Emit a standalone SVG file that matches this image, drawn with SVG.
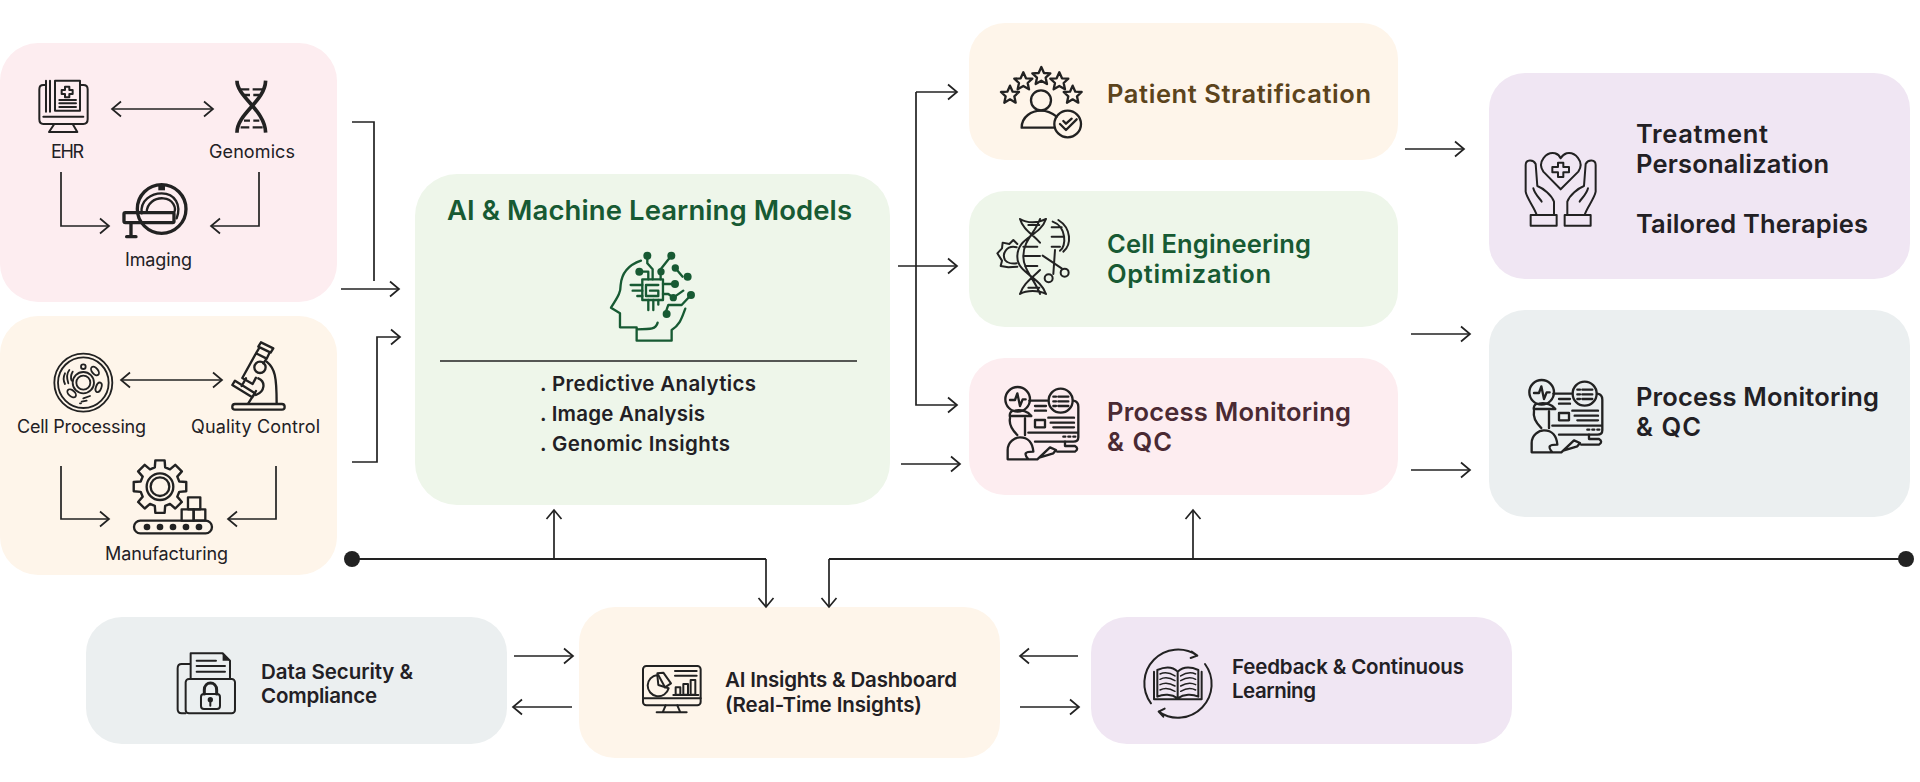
<svg xmlns="http://www.w3.org/2000/svg" width="1920" height="782" viewBox="0 0 1920 782">
<style>
text{font-family:"Inter","Noto Sans","Liberation Sans",sans-serif;fill:#222024}
.s{font-size:18px;font-weight:400}
.t{font-size:25.5px;font-weight:600}
.m{font-size:20.5px;font-weight:600}
.b{font-size:20.5px;font-weight:600}
.title{font-size:27.5px;font-weight:600;fill:#175a33}
.gr{fill:#175a33}.br{fill:#5c441c}.wn{fill:#4a2a33}
.c{fill:none;stroke:#222;stroke-width:1.7}
.a{marker-end:url(#ah)}
.aa{marker-start:url(#ahs);marker-end:url(#ah)}
.i{fill:none;stroke:#222;stroke-width:7;stroke-linejoin:round;stroke-linecap:round}
.f{fill:#222;stroke:none}
.h{fill:none;stroke:#175a33;stroke-width:7;stroke-linejoin:round;stroke-linecap:round}
.hf{fill:#175a33;stroke:none}
</style>
<defs>
<marker id="ah" markerUnits="userSpaceOnUse" markerWidth="14" markerHeight="20" refX="11" refY="9" orient="auto" overflow="visible"><path d="M2 1.5L11 9L2 16.5" fill="none" stroke="#222" stroke-width="1.7"/></marker>
<marker id="ahs" markerUnits="userSpaceOnUse" markerWidth="14" markerHeight="20" refX="11" refY="9" orient="auto-start-reverse" overflow="visible"><path d="M2 1.5L11 9L2 16.5" fill="none" stroke="#222" stroke-width="1.7"/></marker>
<path id="gear" d="M.724-.194L.985-.174L.985.174L.724.194L.649.375L.82.573L.573.82L.375.649L.194.724L.174.985L-.174.985L-.194.724L-.375.649L-.573.82L-.82.573L-.649.375L-.724.194L-.985.174L-.985-.174L-.724-.194L-.649-.375L-.82-.573L-.573-.82L-.375-.649L-.194-.724L-.174-.985L.174-.985L.194-.724L.375-.649L.573-.82L.82-.573L.649-.375Z"/>
<path id="star" d="M0-27L8-9L27-8L13 5L17 24L0 14L-17 24L-13 5L-27-8L-8-9Z"/>
<g id="pm">
<circle cx="173" cy="178" r="37"/><path d="M150 180H165L172 160L180 198L188 178H197"/>
<circle cx="302" cy="182" r="36"/><path d="M295 170H325M295 184H325M295 198H325M280 170H288M280 184H288M280 198H288"/>
<path d="M208 182H262M340 182Q355 184 355 200V292Q355 305 340 305H225M205 278H352M225 198H258M225 212H258M265 233H342M272 248H342M280 262H342M310 290H316M325 290H331M340 290H346"/>
<rect x="225" y="240" width="30" height="22"/>
<path d="M315 305V318H345Q358 326 345 335H292M150 232C148 222 150 212 165 212C185 208 205 215 214 228H150ZM150 235C145 260 165 278 172 285M195 235V285M143 358V330C143 305 165 292 180 292C205 292 218 310 220 335C195 335 190 340 205 358ZM143 358H232L270 322L288 330L280 340L240 352"/>
</g>
<g id="hand"><path d="M222 465V425C215 405 190 385 172 378L167 312C160 298 137 298 137 315V395C140 415 165 445 170 465M160 385C165 405 180 415 185 425"/><rect x="152" y="465" width="78" height="32"/></g>
</defs>

<g id="clinical-data">
<rect x="0" y="43" width="337" height="259" rx="38" fill="#fdedf0"/>
<g id="ehr">
<g class="i" transform="translate(0 30) scale(.3333)" style="stroke-width:6">
<path d="M138 165H130Q118 165 118 178V268Q118 282 130 282H250Q263 282 263 268V178Q263 165 250 165H240M130 260H250M163 282L147 306H232L218 282M138 152V245M150 152V245"/>
<rect x="165" y="152" width="75" height="90"/>
<path d="M195 170H208V180H218V192H208V202H195V192H185V180H195ZM178 210H228M178 220H228M178 231H228"/>
</g>
<text class="s" x="51" y="158" textLength="33">EHR</text>
</g>
<g id="genomics">
<g class="i" transform="translate(0 30) scale(.3333)" style="stroke-width:11;stroke-linecap:butt">
<path d="M711 152C711 200 795 240 797 308M797 152C795 215 711 250 711 308"/>
<path style="stroke-width:7" d="M722 178H748M758 178H788M732 195H750M760 195H778M732 272H750M760 272H778M722 292H748M758 292H788"/>
</g>
<text class="s" x="209" y="158" textLength="86">Genomics</text>
</g>
<g id="imaging">
<g class="i" transform="translate(0 30) scale(.3333)">
<circle cx="485" cy="537" r="73" style="stroke-width:10"/>
<path d="M425 550C420 510 455 490 485 490C525 490 545 525 530 565"/>
<path d="M440 548C440 520 465 503 490 505C520 507 530 535 522 548"/>
<rect x="372" y="548" width="150" height="30" rx="4" style="stroke-width:10"/>
<path d="M393 580V620M380 620H408" style="stroke-width:10"/>
<rect class="f" x="475" y="463" width="20" height="18"/>
</g>
<text class="s" x="125" y="266" textLength="67">Imaging</text>
</g>
</g>

<g id="lab-data">
<rect x="0" y="316" width="337" height="259" rx="38" fill="#fef5ea"/>
<g id="cell-processing">
<g class="i" transform="translate(0 310) scale(.3333)" style="stroke-width:5.5">
<circle cx="250" cy="218" r="87"/><circle cx="250" cy="218" r="76"/>
<circle cx="250" cy="218" r="32"/><circle cx="250" cy="218" r="21"/>
<ellipse cx="285" cy="183" rx="9" ry="15" transform="rotate(-40 285 183)"/>
<ellipse cx="296" cy="232" rx="8" ry="15" transform="rotate(20 296 232)"/>
<ellipse cx="215" cy="250" rx="9" ry="15" transform="rotate(-50 215 250)"/>
<circle cx="250" cy="170" r="7"/>
<path d="M208 180C200 190 200 205 205 220M218 185C212 195 212 205 215 212M195 190C190 200 190 212 195 222M250 265L270 258M245 275L260 272M240 280H243"/>
</g>
<text class="s" x="17" y="433" textLength="129">Cell Processing</text>
</g>
<g id="quality-control">
<g class="i" transform="translate(0 310) scale(.3333)">
<path d="M783 97L820 115L812 128L775 110ZM777 115L768 130L800 146L808 130M768 130L727 204L758 222L768 203M800 146L790 160"/>
<circle cx="780" cy="172" r="17"/>
<path d="M705 212L765 250L757 262L697 225ZM725 228L738 205M745 280L768 243M775 205C798 215 795 245 768 255M800 155C825 175 830 200 830 280"/>
<rect x="697" y="282" width="157" height="17" rx="8"/>
</g>
<text class="s" x="191" y="433" textLength="129">Quality Control</text>
</g>
<g id="manufacturing">
<g class="i" transform="translate(0 310) scale(.3333)">
<use href="#gear" transform="translate(480 530) scale(80)" style="stroke-width:.09"/>
<circle cx="480" cy="530" r="40"/><circle cx="480" cy="530" r="28"/>
<rect x="402" y="632" width="234" height="38" rx="19"/>
<rect x="545" y="598" width="36" height="34" fill="#fef5ea"/><rect x="581" y="598" width="35" height="34"/><rect x="564" y="562" width="37" height="36"/>
<g class="f"><circle cx="441" cy="651" r="10"/><circle cx="480" cy="651" r="10"/><circle cx="519" cy="651" r="10"/><circle cx="558" cy="651" r="10"/><circle cx="597" cy="651" r="10"/></g>
</g>
<text class="s" x="105" y="560" textLength="123">Manufacturing</text>
</g>
</g>

<g id="ai-ml-models">
<rect x="415" y="174" width="475" height="331" rx="42" fill="#eef6ea"/>
<text class="title" x="447" y="220" textLength="405">AI &amp; Machine Learning Models</text>
<g class="h" transform="translate(410 170) scale(.3333)">
<path d="M693 272C655 285 635 310 632 345C632 365 628 375 603 413L630 430V472H680V512H785V480C810 465 815 445 826 416M680 478C725 478 738 478 743 458"/>
<rect x="697" y="328" width="62" height="62"/>
<path d="M745 345H708V378H745V362H720M662 345H697M668 362H697M682 378H697M715 390V420M730 390V420M745 390V404M712 257V280L728 298V328M784 257L752 298V328M688 305H715V328M796 294L818 320M759 342H795M759 372H775L790 383L820 362M843 375L815 405H775L768 425"/>
<g class="hf"><circle cx="712" cy="257" r="12"/><circle cx="784" cy="257" r="12"/><circle cx="753" cy="305" r="11"/><circle cx="688" cy="305" r="12"/><circle cx="796" cy="294" r="11"/><circle cx="833" cy="320" r="12"/><circle cx="795" cy="342" r="12"/><circle cx="790" cy="383" r="11"/><circle cx="843" cy="375" r="12"/><circle cx="770" cy="432" r="12"/></g>
</g>
<path class="c" d="M440 361H857"/>
<text class="b" x="540" y="391" textLength="216" xml:space="preserve">. Predictive Analytics</text>
<text class="b" x="540" y="421" textLength="165" xml:space="preserve">. Image Analysis</text>
<text class="b" x="540" y="451" textLength="190" xml:space="preserve">. Genomic Insights</text>
</g>

<g id="patient-stratification">
<rect x="969" y="23" width="429" height="137" rx="36" fill="#fef5ea"/>
<g class="i" transform="translate(960 20) scale(.3333)">
<use href="#star" x="150" y="224"/><use href="#star" x="190" y="184"/><use href="#star" x="244" y="168"/><use href="#star" x="298" y="184"/><use href="#star" x="338" y="224"/>
<circle cx="243" cy="241" r="30"/>
<path d="M185 323C185 290 215 272 243 272C260 272 275 278 290 290M185 323H283"/>
<circle cx="323" cy="312" r="40"/>
<path d="M300 312L318 330L350 298M310 303L318 311L335 296"/>
</g>
<text class="t br" x="1107" y="103" textLength="264">Patient Stratification</text>
</g>

<g id="cell-engineering">
<rect x="969" y="191" width="429" height="136" rx="36" fill="#eef6ea"/>
<g class="i" transform="translate(960 20) scale(.3333)" style="stroke-width:6">
<path d="M258 597C240 650 172 650 172 710C172 760 240 770 258 822M240 597C225 640 190 660 190 710C190 750 225 780 240 822M180 597C190 630 215 640 240 668M180 822C190 790 215 775 240 750M258 597C235 610 200 610 180 597M258 822C235 810 200 810 180 822M205 615H238M190 680H232M190 708H240M195 738H232M205 803H238"/>
<path d="M278 605C320 620 320 680 300 692M295 600C335 625 335 675 310 695M275 622H305M275 650H312M275 680H300"/>
<path d="M172 672L160 660L148 672L128 668L126 685L112 700L126 722L122 738L145 742L172 740M170 682C140 675 125 700 135 720C140 728 155 732 170 730"/>
<path d="M248 707L305 745M285 690L280 762"/><circle cx="266" cy="775" r="12"/><circle cx="314" cy="758" r="12"/>
</g>
<text class="t gr" x="1107" y="253" textLength="204">Cell Engineering</text>
<text class="t gr" x="1107" y="283" textLength="164">Optimization</text>
</g>

<g id="process-monitoring">
<rect x="969" y="358" width="429" height="137" rx="36" fill="#fdedf0"/>
<use href="#pm" class="i" transform="translate(960 340) scale(.3333)"/>
<text class="t wn" x="1107" y="421" textLength="244">Process Monitoring</text>
<text class="t wn" x="1107" y="451" textLength="65">&amp; QC</text>
</g>

<g id="treatment-personalization">
<rect x="1489" y="73" width="421" height="206" rx="36" fill="#f0e6f3"/>
<g class="i" transform="translate(1480 60) scale(.3333)" style="stroke-width:6">
<path d="M242 388L190 335C170 305 200 275 225 280C235 283 240 290 242 295C245 290 250 283 260 280C285 275 315 305 295 335Z"/>
<path d="M234 308H250V321H267V337H250V351H234V337H217V321H234Z"/>
<use href="#hand"/><use href="#hand" transform="translate(484) scale(-1 1)"/>
</g>
<text class="t" x="1636" y="143" textLength="132">Treatment</text>
<text class="t" x="1636" y="173" textLength="193">Personalization</text>
<text class="t" x="1636" y="233" textLength="232">Tailored Therapies</text>
</g>

<g id="process-monitoring-outcome">
<rect x="1489" y="310" width="421" height="207" rx="36" fill="#ebeff0"/>
<use href="#pm" class="i" transform="translate(1484 333) scale(.3333)"/>
<text class="t" x="1636" y="406" textLength="243">Process Monitoring</text>
<text class="t" x="1636" y="436" textLength="65">&amp; QC</text>
</g>

<g id="data-security">
<rect x="86" y="617" width="421" height="127" rx="36" fill="#ebeff0"/>
<g class="i" transform="translate(70 590) scale(.3333)" style="stroke-width:6">
<path d="M362 222H335Q323 222 323 235V358Q323 370 335 370H347M362 265V190H458L480 212V265M380 212H438M380 228H465M380 245H465"/>
<path class="f" d="M458 190L480 212H458Z"/>
<rect x="347" y="267" width="148" height="103" rx="10"/>
<rect x="393" y="312" width="57" height="45" rx="9"/>
<path d="M403 312V300C403 272 440 272 440 300V312" style="stroke-width:9"/>
<circle class="f" cx="421" cy="329" r="8"/><path d="M421 329V347"/>
</g>
<text class="m" x="261" y="679" textLength="152">Data Security &amp;</text>
<text class="m" x="261" y="703" textLength="116">Compliance</text>
</g>

<g id="ai-insights">
<rect x="579" y="607" width="421" height="151" rx="36" fill="#fef5ea"/>
<g class="i" transform="translate(570 590) scale(.3333)" style="stroke-width:6">
<rect x="219" y="228" width="173" height="118" rx="10"/>
<path d="M219 325H392M287 346L278 367M322 346L331 367M260 367H350M315 243H380M315 257H380M310 315H385"/>
<path d="M262 255A32 32 0 1 0 296 295L265 285Z"/>
<path d="M262 250L280 248L303 280L285 292Z"/>
<rect x="317" y="292" width="14" height="22"/><rect x="340" y="282" width="14" height="32"/><rect x="362" y="270" width="14" height="44"/>
</g>
<text class="m" x="725" y="687" textLength="232">AI Insights &amp; Dashboard</text>
<text class="m" x="725" y="712" textLength="197">(Real-Time Insights)</text>
</g>

<g id="feedback">
<rect x="1091" y="617" width="421" height="127" rx="36" fill="#f0e6f3"/>
<g class="i" transform="translate(1080 590) scale(.3333)" style="stroke-width:6">
<path d="M213 340A101 101 0 0 1 352 197M335 185L352 197L332 204M375 222A101 101 0 0 1 236 365M254 356L236 365L250 380"/>
<path d="M222 245V328H365V245M232 240C260 228 280 232 293 245V325C275 312 250 312 232 320ZM355 240C327 228 307 232 293 245M355 240V320C337 312 312 312 293 325"/>
<path d="M240 252C255 245 270 248 285 258M240 268C255 260 270 263 285 272M240 284C255 276 270 279 285 288M240 300C255 292 270 295 285 304M302 258C317 248 332 245 347 252M302 272C317 263 332 260 347 268M302 288C317 279 332 276 347 284M302 304C317 295 332 292 347 300" style="stroke-width:4.5"/>
</g>
<text class="m" x="1232" y="674" textLength="232">Feedback &amp; Continuous</text>
<text class="m" x="1232" y="698" textLength="84">Learning</text>
</g>

<g id="connectors">
<path class="c aa" d="M112 109H213"/>
<path class="c a" d="M61 172V226H109"/>
<path class="c a" d="M259 172V226H211"/>
<path class="c" d="M352 122H374V281"/>
<path class="c a" d="M341 289H399"/>
<path class="c aa" d="M121 380H222"/>
<path class="c a" d="M61 466V519H109"/>
<path class="c a" d="M276 466V519H228"/>
<path class="c a" d="M352 462H377V337H400"/>
<circle class="f" cx="352" cy="559" r="8"/>
<circle class="f" cx="1906" cy="559" r="8"/>
<path class="c" style="stroke-width:2" d="M352 559H766"/>
<path class="c a" d="M766 559V607"/>
<path class="c a" d="M554 559V510"/>
<path class="c" style="stroke-width:2" d="M829 559H1906"/>
<path class="c a" d="M829 559V607"/>
<path class="c a" d="M1193 559V510"/>
<path class="c a" d="M916 92H957"/>
<path class="c a" d="M916 92V405H957"/>
<path class="c a" d="M898 266H957"/>
<path class="c a" d="M901 464H960"/>
<path class="c a" d="M1405 149H1464"/>
<path class="c a" d="M1411 334H1470"/>
<path class="c a" d="M1411 470H1470"/>
<path class="c a" d="M514 656H573"/>
<path class="c a" d="M572 707H513"/>
<path class="c a" d="M1078 656H1020"/>
<path class="c a" d="M1020 707H1079"/>
</g>
</svg>
